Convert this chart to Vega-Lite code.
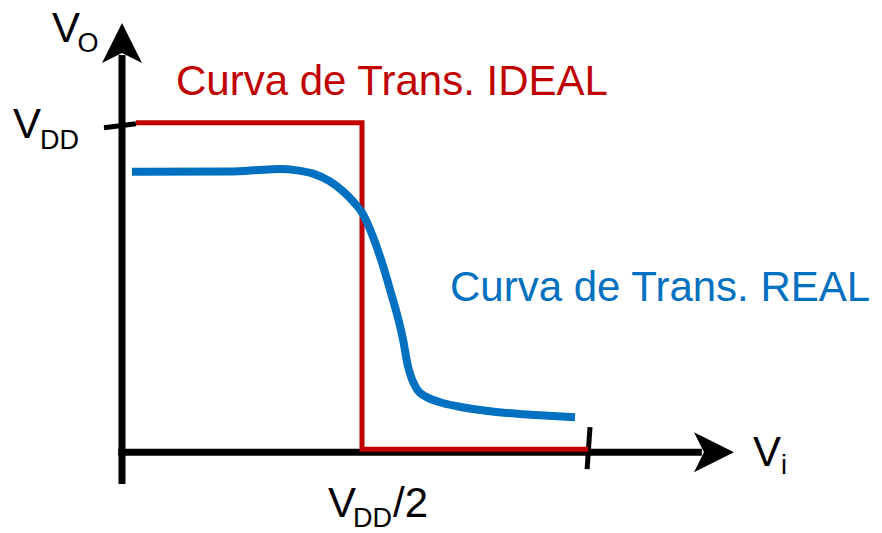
{
  "$schema": "https://vega.github.io/schema/vega-lite/v6.json",
  "width": 882,
  "height": 533,
  "autosize": {"type": "fit", "contains": "padding"},
  "padding": 0,
  "background": "white",
  "config": {"view": {"stroke": null}, "text": {"font": "Liberation Sans"}},
  "datasets": {
    "ideal": [
      {"i": 1, "x": 0.029, "y": 1.0},
      {"i": 2, "x": 0.5, "y": 1.0},
      {"i": 3, "x": 0.5, "y": 0.009},
      {"i": 4, "x": 0.971, "y": 0.009}
    ],
    "real": [
      {"x": 0.0208, "y": 0.8515},
      {"x": 0.225, "y": 0.8524},
      {"x": 0.2938, "y": 0.8576},
      {"x": 0.3292, "y": 0.8597},
      {"x": 0.3646, "y": 0.8555},
      {"x": 0.3979, "y": 0.8455},
      {"x": 0.4333, "y": 0.8221},
      {"x": 0.4604, "y": 0.7918},
      {"x": 0.4813, "y": 0.7615},
      {"x": 0.5, "y": 0.7273},
      {"x": 0.5125, "y": 0.6909},
      {"x": 0.5375, "y": 0.5939},
      {"x": 0.5583, "y": 0.4939},
      {"x": 0.5854, "y": 0.3424},
      {"x": 0.5958, "y": 0.2606},
      {"x": 0.6042, "y": 0.2212},
      {"x": 0.6146, "y": 0.1909},
      {"x": 0.6354, "y": 0.1667},
      {"x": 0.6625, "y": 0.1515},
      {"x": 0.6979, "y": 0.1394},
      {"x": 0.7667, "y": 0.1242},
      {"x": 0.8354, "y": 0.1152},
      {"x": 0.9063, "y": 0.1091},
      {"x": 0.9438, "y": 0.1061}
    ],
    "axes": [
      {"x": 0, "y": -0.097, "x2": 0, "y2": 1.206},
      {"x": -0.008, "y": 0, "x2": 1.208, "y2": 0}
    ],
    "ticks": [
      {"x": -0.0375, "y": 0.985, "x2": 0.029, "y2": 0.997},
      {"x": 0.975, "y": 0.0758, "x2": 0.969, "y2": -0.0515}
    ],
    "heads": [
      {"x": 0, "y": 1.2424, "dir": "up"},
      {"x": 1.2333, "y": 0, "dir": "right"}
    ],
    "labels": [
      {"kind": "main", "text": "V", "x": -0.1458, "y": 1.2455},
      {"kind": "sub", "text": "O", "x": -0.0927, "y": 1.2152},
      {"kind": "main", "text": "V", "x": -0.2271, "y": 0.9545},
      {"kind": "sub", "text": "DD", "x": -0.1708, "y": 0.9212},
      {"kind": "main", "text": "V", "x": 0.4292, "y": -0.197},
      {"kind": "sub", "text": "DD", "x": 0.4813, "y": -0.2273},
      {"kind": "main", "text": "/2", "x": 0.5646, "y": -0.197},
      {"kind": "main", "text": "V", "x": 1.3146, "y": -0.0424},
      {"kind": "sub", "text": "i", "x": 1.3729, "y": -0.0667},
      {"kind": "ideal", "text": "Curva de Trans. IDEAL", "x": 0.1125, "y": 1.0848},
      {"kind": "real", "text": "Curva de Trans. REAL", "x": 0.6833, "y": 0.4576}
    ]
  },
  "encoding": {
    "x": {"field": "x", "type": "quantitative", "axis": null, "scale": {"domain": [-0.254167, 1.583333], "nice": false, "zero": false}},
    "y": {"field": "y", "type": "quantitative", "axis": null, "scale": {"domain": [-0.242424, 1.372727], "nice": false, "zero": false}}
  },
  "layer": [
    {
      "data": {"name": "axes"},
      "mark": {"type": "rule", "color": "black", "strokeWidth": 7, "strokeCap": "butt"},
      "encoding": {"x2": {"field": "x2"}, "y2": {"field": "y2"}}
    },
    {
      "data": {"name": "ticks"},
      "mark": {"type": "rule", "color": "black", "strokeWidth": 5, "strokeCap": "butt"},
      "encoding": {"x2": {"field": "x2"}, "y2": {"field": "y2"}}
    },
    {
      "data": {"name": "ideal"},
      "mark": {"type": "line", "color": "#c00000", "strokeWidth": 5, "strokeJoin": "miter", "strokeCap": "butt"},
      "encoding": {"order": {"field": "i", "type": "quantitative"}}
    },
    {
      "data": {"name": "real"},
      "mark": {"type": "line", "color": "#0070c0", "strokeWidth": 8, "interpolate": "monotone", "strokeCap": "butt"},
      "encoding": {}
    },
    {
      "data": {"name": "heads"},
      "mark": {"type": "point", "filled": true, "color": "black", "opacity": 1, "size": 1600, "strokeWidth": 0},
      "encoding": {
        "shape": {"field": "dir", "type": "nominal", "legend": null, "scale": {"domain": ["up", "right"], "range": ["M0,-1L1,1L0,0.5L-1,1Z", "M1,0L-1,-1L-0.5,0L-1,1Z"]}}
      }
    },
    {
      "data": {"name": "labels"},
      "transform": [{"filter": "datum.kind === 'main'"}],
      "mark": {"type": "text", "align": "left", "baseline": "alphabetic", "fontSize": 42, "color": "black"},
      "encoding": {"text": {"field": "text"}}
    },
    {
      "data": {"name": "labels"},
      "transform": [{"filter": "datum.kind === 'sub'"}],
      "mark": {"type": "text", "align": "left", "baseline": "alphabetic", "fontSize": 27, "color": "black"},
      "encoding": {"text": {"field": "text"}}
    },
    {
      "data": {"name": "labels"},
      "transform": [{"filter": "datum.kind === 'ideal'"}],
      "mark": {"type": "text", "align": "left", "baseline": "alphabetic", "fontSize": 42, "color": "#c00000"},
      "encoding": {"text": {"field": "text"}}
    },
    {
      "data": {"name": "labels"},
      "transform": [{"filter": "datum.kind === 'real'"}],
      "mark": {"type": "text", "align": "left", "baseline": "alphabetic", "fontSize": 42, "color": "#0070c0"},
      "encoding": {"text": {"field": "text"}}
    }
  ]
}
